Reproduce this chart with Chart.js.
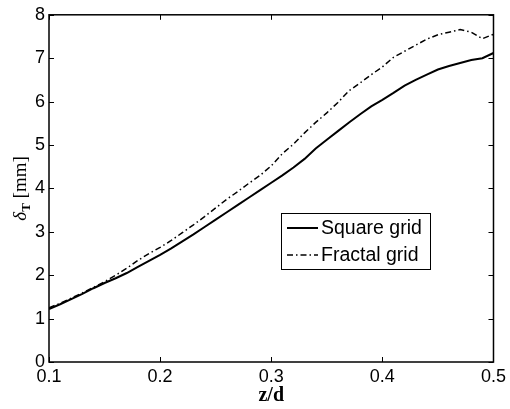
<!DOCTYPE html>
<html>
<head>
<meta charset="utf-8">
<script src="https://cdn.jsdelivr.net/npm/chart.js@4.4.0/dist/chart.umd.min.js"></script>
<style>
html,body{margin:0;padding:0;background:#fff;}
#wrap{width:510px;height:409px;position:relative;}
</style>
</head>
<body>
<div id="wrap"><canvas id="c" width="510" height="409"></canvas></div>
<script>
const zValues = [0.10,0.11,0.12,0.13,0.14,0.15,0.16,0.17,0.18,0.19,0.20,0.21,0.22,0.23,0.24,0.25,0.26,0.27,0.28,0.29,0.30,0.31,0.32,0.33,0.34,0.35,0.36,0.37,0.38,0.39,0.40,0.41,0.42,0.43,0.44,0.45,0.46,0.47,0.48,0.49,0.50];
const squareGrid = [1.22,1.33,1.45,1.57,1.70,1.82,1.93,2.05,2.19,2.33,2.47,2.62,2.78,2.94,3.11,3.28,3.45,3.62,3.79,3.96,4.13,4.30,4.48,4.68,4.92,5.12,5.32,5.52,5.71,5.89,6.04,6.20,6.37,6.50,6.62,6.74,6.82,6.89,6.96,7.00,7.12];
const fractalGrid = [1.25,1.35,1.47,1.59,1.72,1.85,2.00,2.16,2.34,2.50,2.64,2.80,2.98,3.16,3.35,3.55,3.75,3.93,4.12,4.30,4.52,4.80,5.02,5.28,5.52,5.74,5.98,6.25,6.43,6.62,6.80,7.02,7.16,7.30,7.44,7.54,7.60,7.66,7.60,7.45,7.55];
const xTicks = [0.1,0.2,0.3,0.4,0.5];
const yTicks = [0,1,2,3,4,5,6,7,8];
const seriesNames = ['Square grid','Fractal grid'];
const xTitle = 'z/d';

const FONT = '"Liberation Sans", Arial, Helvetica, sans-serif';

const frame = {
  id:'frame',
  afterDraw(chart){
    const {ctx, chartArea:a, scales:{x,y}} = chart;
    ctx.save();
    ctx.strokeStyle='#000';
    ctx.lineWidth=1.5;
    ctx.strokeRect(a.left, a.top, a.right-a.left, a.bottom-a.top);
    ctx.lineWidth=1;
    const L=5;
    ctx.beginPath();
    xTicks.forEach(v=>{
      const px=Math.round(x.getPixelForValue(v))+0.5;
      ctx.moveTo(px,a.bottom); ctx.lineTo(px,a.bottom-L);
      ctx.moveTo(px,a.top); ctx.lineTo(px,a.top+L);
    });
    yTicks.forEach(v=>{
      const py=Math.round(y.getPixelForValue(v))+0.5;
      ctx.moveTo(a.left,py); ctx.lineTo(a.left+L,py);
      ctx.moveTo(a.right,py); ctx.lineTo(a.right-L,py);
    });
    ctx.stroke();

    // legend
    const bx=281, by=213, bw=149, bh=56;
    ctx.fillStyle='#fff';
    ctx.fillRect(bx,by,bw,bh);
    ctx.lineWidth=1;
    ctx.strokeRect(bx+0.5,by+0.5,bw,bh);
    const ds = chart.data.datasets;
    const rows=[228,255];
    rows.forEach((ry,i)=>{
      ctx.save();
      ctx.strokeStyle='#000';
      ctx.lineWidth=ds[i].borderWidth;
      ctx.setLineDash(ds[i].borderDash||[]);
      ctx.beginPath(); ctx.moveTo(287,ry); ctx.lineTo(318,ry); ctx.stroke();
      ctx.restore();
      ctx.fillStyle='#000';
      ctx.font='19.5px '+FONT;
      ctx.textBaseline='middle';
      ctx.textAlign='left';
      ctx.fillText(ds[i].label,321,ry+1);
    });

    // x title
    ctx.fillStyle='#000';
    ctx.font='bold 20px "Liberation Serif", "DejaVu Serif", serif';
    ctx.textAlign='center';
    ctx.textBaseline='alphabetic';
    ctx.fillText(xTitle,(a.left+a.right)/2,401);

    // y title: delta_T [mm]
    ctx.save();
    ctx.translate(26,(a.top+a.bottom)/2);
    ctx.rotate(-Math.PI/2);
    const f1='italic 19px "Liberation Serif", serif';
    const f2='bold 13px "Liberation Serif", serif';
    const f3='19px "Liberation Serif", serif';
    ctx.font=f1; const w1=ctx.measureText('δ').width;
    ctx.font=f2; const w2=ctx.measureText('T').width;
    ctx.font=f3; const w3=ctx.measureText(' [mm]').width;
    let sx=-(w1+w2+w3)/2;
    ctx.textAlign='left';
    ctx.font=f1; ctx.fillText('δ',sx,0); sx+=w1;
    ctx.font=f2; ctx.fillText('T',sx,4); sx+=w2;
    ctx.font=f3; ctx.fillText(' [mm]',sx,0);
    ctx.restore();
    ctx.restore();
  }
};

new Chart(document.getElementById('c'),{
  type:'line',
  data:{
    datasets:[
      {label:seriesNames[0], data:zValues.map((z,i)=>({x:z,y:squareGrid[i]})), borderColor:'#000', borderWidth:2, pointRadius:0, tension:0, fill:false},
      {label:seriesNames[1], data:zValues.map((z,i)=>({x:z,y:fractalGrid[i]})), borderColor:'#000', borderWidth:1.5, borderDash:[6,3,1.5,3], pointRadius:0, tension:0, fill:false}
    ]
  },
  options:{
    responsive:false,
    animation:false,
    devicePixelRatio:1,
    layout:{padding:{left:0,top:10,right:14,bottom:0}},
    plugins:{legend:{display:false},tooltip:{enabled:false}},
    scales:{
      x:{type:'linear',min:0.1,max:0.5,
        afterBuildTicks:s=>{s.ticks=xTicks.map(v=>({value:v}));},
        afterFit:s=>{s.height=47;},
        grid:{display:false,drawTicks:false},border:{display:false},
        ticks:{color:'#000',font:{family:FONT,size:18},padding:4,maxRotation:0,
          callback:v=>v.toFixed(1)}},
      y:{type:'linear',min:0,max:8,
        afterBuildTicks:s=>{s.ticks=yTicks.map(v=>({value:v}));},
        afterFit:s=>{s.width=49;},
        grid:{display:false,drawTicks:false},border:{display:false},
        ticks:{color:'#000',font:{family:FONT,size:18},padding:4,
          callback:v=>String(v)}}
    }
  },
  plugins:[frame]
});
</script>
</body>
</html>
